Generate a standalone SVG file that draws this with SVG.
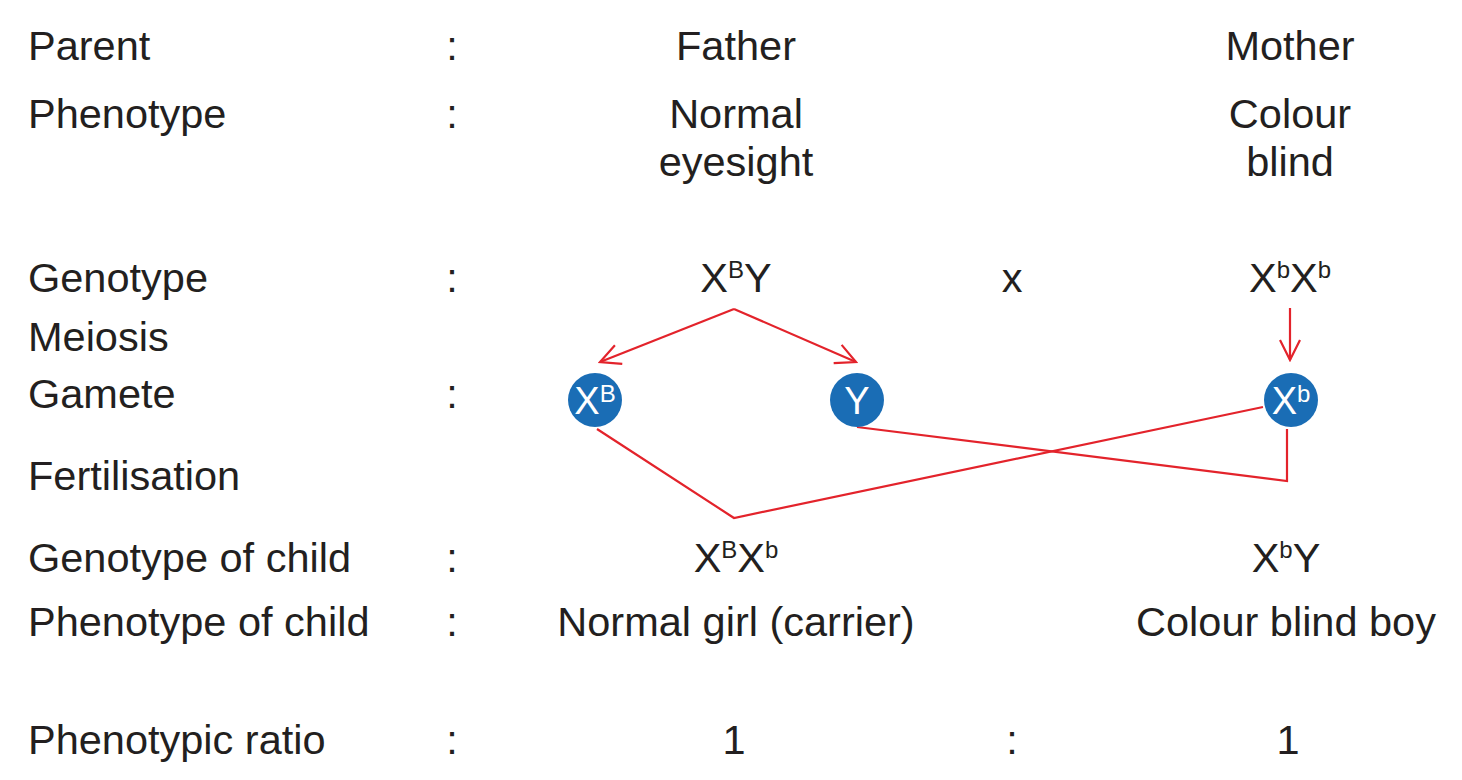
<svg xmlns="http://www.w3.org/2000/svg" width="1462" height="780" viewBox="0 0 1462 780">
<defs>
<style>
text{font-family:"Liberation Sans",Arial,sans-serif;font-size:41.5px;fill:#231f20}
.c{text-anchor:middle}
.g{fill:#ffffff;font-size:38px;text-anchor:middle}
.sup{font-size:24px}
.ln{fill:none;stroke:#e3232b;stroke-width:2.2;stroke-linejoin:miter}
.circ{fill:#1a6db5}
</style>
<marker id="ah" viewBox="0 0 24 24" refX="22" refY="12" markerWidth="24" markerHeight="24" markerUnits="userSpaceOnUse" orient="auto">
<path d="M2,2 L22,12 L2,22" fill="none" stroke="#e3232b" stroke-width="2.2"/>
</marker>
</defs>
<rect width="1462" height="780" fill="#ffffff"/>
<g id="labels">
<text x="28" y="60">Parent</text>
<text x="28" y="128">Phenotype</text>
<text x="28" y="292">Genotype</text>
<text x="28" y="351">Meiosis</text>
<text x="28" y="408">Gamete</text>
<text x="28" y="490">Fertilisation</text>
<text x="28" y="572">Genotype of child</text>
<text x="28" y="636">Phenotype of child</text>
<text x="28" y="754">Phenotypic ratio</text>
<text x="452" y="60" class="c">:</text>
<text x="452" y="128" class="c">:</text>
<text x="452" y="292" class="c">:</text>
<text x="452" y="408" class="c">:</text>
<text x="452" y="572" class="c">:</text>
<text x="452" y="636" class="c">:</text>
<text x="452" y="754" class="c">:</text>
</g>
<g id="father">
<text x="736" y="60" class="c">Father</text>
<text x="736" y="128" class="c">Normal</text>
<text x="736" y="176" class="c">eyesight</text>
<text x="736" y="292" class="c">X<tspan class="sup" dy="-14">B</tspan><tspan dy="14">Y</tspan></text>
</g>
<g id="cross"><text x="1012" y="292" class="c">x</text></g>
<g id="mother">
<text x="1290" y="60" class="c">Mother</text>
<text x="1290" y="128" class="c">Colour</text>
<text x="1290" y="176" class="c">blind</text>
<text x="1290" y="292" class="c">X<tspan class="sup" dy="-14">b</tspan><tspan dy="14">X</tspan><tspan class="sup" dy="-14">b</tspan></text>
</g>
<g id="connectors">
<path class="ln" d="M734,309 L600,362" marker-end="url(#ah)"/>
<path class="ln" d="M734,309 L856,362" marker-end="url(#ah)"/>
<path class="ln" d="M1290,308 L1290,360" marker-end="url(#ah)"/>
<path class="ln" d="M597,429 L734,518 L1263,407"/>
<path class="ln" d="M857,427 L1287,481 L1287,429"/>
</g>
<g id="gamete-XB">
<circle class="circ" cx="595" cy="400" r="27"/>
<text x="595" y="414" class="g">X<tspan class="sup" dy="-12">B</tspan></text>
</g>
<g id="gamete-Y">
<circle class="circ" cx="857" cy="400" r="27"/>
<text x="857" y="414" class="g">Y</text>
</g>
<g id="gamete-Xb">
<circle class="circ" cx="1291" cy="400" r="27"/>
<text x="1291" y="414" class="g">X<tspan class="sup" dy="-12">b</tspan></text>
</g>
<g id="children">
<text x="736" y="572" class="c">X<tspan class="sup" dy="-14">B</tspan><tspan dy="14">X</tspan><tspan class="sup" dy="-14">b</tspan></text>
<text x="736" y="636" class="c">Normal girl (carrier)</text>
<text x="1286" y="572" class="c">X<tspan class="sup" dy="-14">b</tspan><tspan dy="14">Y</tspan></text>
<text x="1286" y="636" class="c">Colour blind boy</text>
</g>
<g id="ratio">
<text x="734" y="754" class="c">1</text>
<text x="1012" y="754" class="c">:</text>
<text x="1288" y="754" class="c">1</text>
</g>
</svg>
